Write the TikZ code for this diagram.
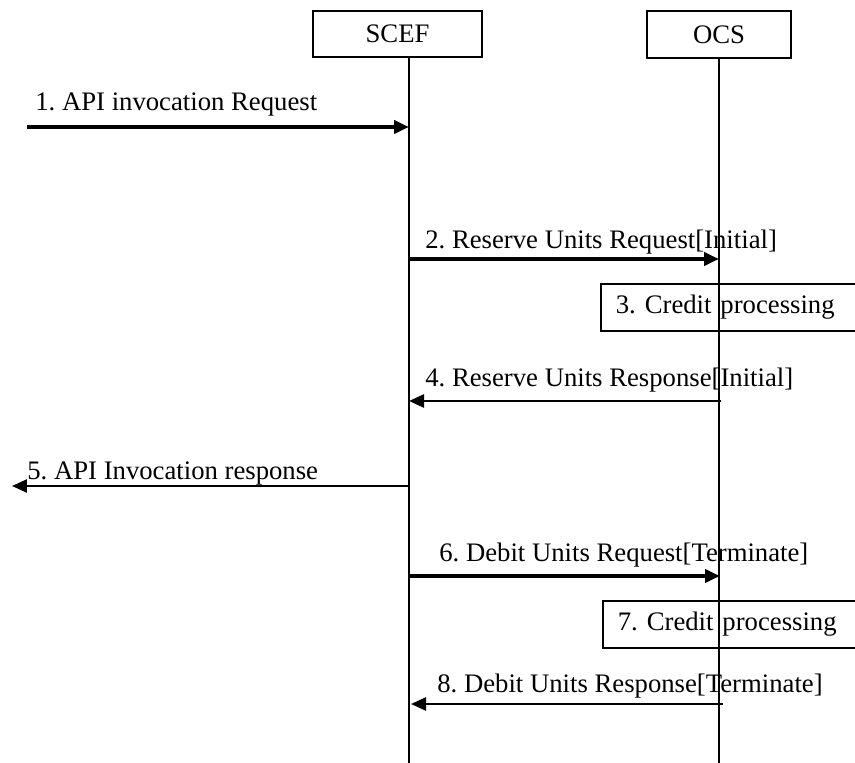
\documentclass[tikz,border=0pt]{standalone}
\usepackage{fontspec}
\setmainfont{Liberation Serif}
\usetikzlibrary{arrows.meta}
\frenchspacing

\tikzset{
	actor/.style={draw, line width=1pt, inner sep=0pt},
	lifeline/.style={line width=1pt},
	procbox/.style={draw, line width=1pt, anchor=north west, inner xsep=0.3cm, text width=4.8cm, minimum height=0.94cm, align=left},
	req/.style={line width=2.3pt, -{Triangle[length=0.3cm, width=0.26cm]}},
	resp/.style={line width=1.4pt, -{Triangle[length=0.3cm, width=0.26cm]}},
	lbl/.style={anchor=base west, inner sep=0pt},
}

\begin{document}
\begin{tikzpicture}[x=0.02cm, y=-0.02cm, font=\fontsize{15.2}{18}\selectfont]
	\useasboundingbox (0,0) rectangle (855,763);
	\clip (0,0) rectangle (855,763);

	% entities and lifelines
	\node[actor, minimum width=3.38cm, minimum height=0.92cm] (scef) at (397.5,34) {SCEF};
	\node[actor, minimum width=2.88cm, minimum height=0.94cm] (ocs) at (719,34.5) {OCS};
	\coordinate (scefEnd) at (409,763);
	\coordinate (ocsEnd) at (719,763);
	\draw[lifeline] (scef.south -| scefEnd) -- (scefEnd);
	\draw[lifeline] (ocs.south) -- (ocsEnd);

	% 1
	\coordinate (ue1) at (27,127);
	\coordinate (s1) at (409,127);
	\draw[req] (ue1) -- (s1);
	\node[lbl] (m1) at (35,111) {1. API invocation Request};

	% 2
	\coordinate (s2) at (409,259);
	\coordinate (o2) at (719,259);
	\draw[req] (s2) -- (o2);
	\node[lbl] (m2) at (425,249) {2. Reserve Units Request[Initial]};

	% 3
	\node[procbox] (cp3) at (600,283) {3. Credit processing};

	% 4
	\coordinate (o4) at (721,401);
	\coordinate (s4) at (409,401);
	\draw[resp] (o4) -- (s4);
	\node[lbl] (m4) at (425,386) {4. Reserve Units Response[Initial]};

	% 5
	\coordinate (s5) at (409,486);
	\coordinate (ue5) at (12,486);
	\draw[resp] (s5) -- (ue5);
	\node[lbl] (m5) at (27,479) {5. API Invocation response};

	% 6
	\coordinate (s6) at (410,576);
	\coordinate (o6) at (720,576);
	\draw[req] (s6) -- (o6);
	\node[lbl] (m6) at (439,561) {6. Debit Units Request[Terminate]};

	% 7
	\node[procbox] (cp7) at (602,600) {7. Credit processing};

	% 8
	\coordinate (o8) at (723,704);
	\coordinate (s8) at (411,704);
	\draw[resp] (o8) -- (s8);
	\node[lbl] (m8) at (437,692) {8. Debit Units Response[Terminate]};
\end{tikzpicture}
\end{document}
